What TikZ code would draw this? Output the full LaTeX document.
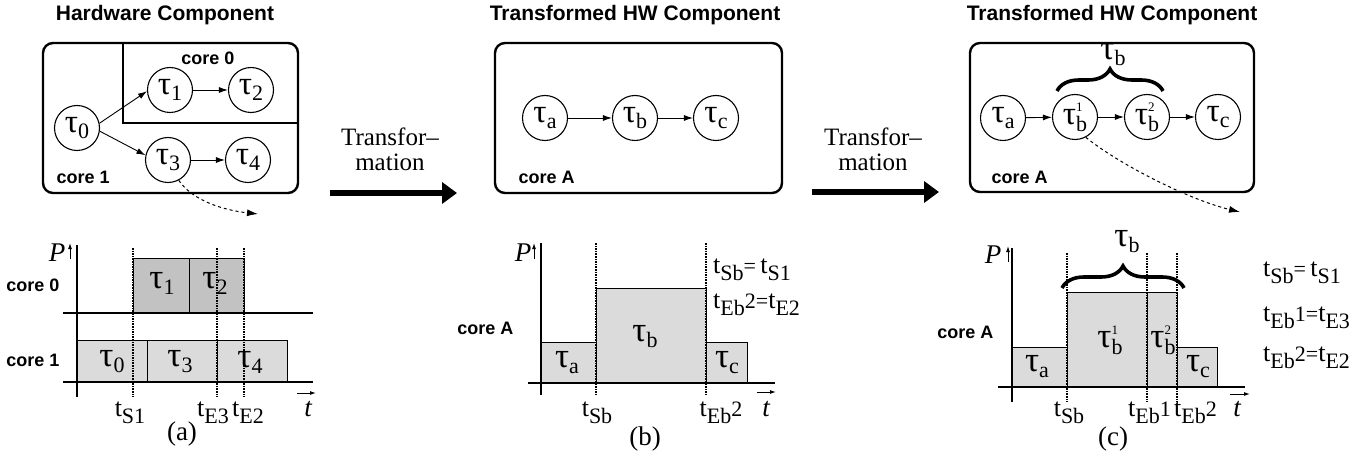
\documentclass[tikz,border=0pt]{standalone}
\usepackage{fontspec}
\setmainfont{Liberation Serif}
\setsansfont{Liberation Sans}
\usetikzlibrary{arrows.meta,decorations.pathreplacing}

\definecolor{barlight}{gray}{0.86}
\definecolor{bardark}{gray}{0.76}

% task and time labels
\newcommand\tsk[1]{τ\raisebox{-6pt}{\fontsize{22}{22}\selectfont #1}}
\newcommand\tskb[1]{τ\makebox[0pt][l]{\raisebox{13pt}{\fontsize{13}{13}\selectfont #1}}\raisebox{-7pt}{\fontsize{22}{22}\selectfont b}}
\newcommand\tlab[2][]{t\raisebox{-7pt}{\fontsize{22}{22}\selectfont #2}{\fontsize{22}{22}\selectfont #1}}
\newcommand\eqs{{\fontsize{22}{22}\selectfont=}}

\tikzset{
  title/.style={font=\sffamily\bfseries\fontsize{21}{21}\selectfont},
  corelbl/.style={font=\sffamily\bfseries\fontsize{18}{18}\selectfont},
  hwbox/.style={line width=2.4pt, rounded corners=10pt},
  taskc/.style={circle, draw, line width=1.1pt, minimum size=45pt, inner sep=0pt,
    font=\fontsize{33}{33}\selectfont},
  flow/.style={-{Latex[length=9pt,width=6pt]}, line width=0.9pt},
  bigarrow/.style={line width=6.5pt, -{Triangle[length=15pt,width=21pt]}},
  hint/.style={dashed, line width=1pt, -{Latex[length=11pt,width=7pt]}},
  tline/.style={line width=2pt, dash pattern=on 1.6pt off 1pt},
  axis/.style={line width=1.5pt},
  barl/.style={fill=barlight, draw, line width=0.8pt},
  bard/.style={fill=bardark, draw, line width=0.8pt},
  barlbl/.style={font=\fontsize{35}{35}\selectfont},
  tlbl/.style={font=\fontsize{26}{26}\selectfont, inner sep=1pt},
  plbl/.style={font=\itshape\fontsize{27}{27}\selectfont},
  tiny arrow/.style={line width=1pt, -{Latex[length=6pt,width=4pt]}},
  xfer/.style={align=center, font=\fontsize{25}{25}\selectfont},
  brc/.style={decorate, decoration={brace, amplitude=22pt}, line width=3.6pt},
  sub/.style={font=\fontsize{27}{27}\selectfont}
}

\begin{document}
\begin{tikzpicture}[x=1pt,y=-1pt]
  \useasboundingbox (0,0) rectangle (1359,457);

  % titles
  \node[title] (ttlA) at (165,15) {Hardware Component};
  \node[title] (ttlB) at (635,15) {Transformed HW Component};
  \node[title] (ttlC) at (1112,15) {Transformed HW Component};

  % (a) hardware component
  \draw[hwbox] (43,43) rectangle (298,193);
  \draw[line width=2.4pt] (123,43) -- (123,123) -- (297,123);
  \node[corelbl] (c0) at (208,58) {core 0};
  \node[corelbl, anchor=west] (c1) at (53,177) {core 1};

  \node[taskc] (t0) at (77,128) {\tsk{0}};
  \node[taskc] (t1) at (170,90) {\tsk{1}};
  \node[taskc] (t2) at (251,90) {\tsk{2}};
  \node[taskc] (t3) at (168,160) {\tsk{3}};
  \node[taskc] (t4) at (248,160) {\tsk{4}};
  \draw[flow] (t0.12) -- (t1.183);
  \draw[flow] (t0.-8) -- (t3.168);
  \draw[flow] (t1) -- (t2);
  \draw[flow] (t3) -- (t4);

  \coordinate (hA) at (258,214);
  \draw[hint] (t3.-62) .. controls (192,200) and (222,210) .. (hA);

  % (a) schedule
  \draw[bard] (133,258) rectangle (189,313);
  \draw[bard] (189,258) rectangle (244,313);
  \draw[barl] (77,340) rectangle (147,382);
  \draw[barl] (147,340) rectangle (217,382);
  \draw[barl] (217,340) rectangle (287,382);
  \draw[axis] (77,245) -- (77,397);
  \draw[axis] (63,313) -- (313,313);
  \draw[axis] (63,382) -- (313,382);
  \foreach \x in {133,217,244}
    \draw[tline] (\x,248) -- (\x,397);

  \node[barlbl] (b1) at (162,283) {\tsk{1}};
  \node[barlbl] (b2) at (215,283) {\tsk{2}};
  \node[barlbl] (b0) at (112,362) {\tsk{0}};
  \node[barlbl] (b3) at (180,362) {\tsk{3}};
  \node[barlbl] (b4) at (250,362) {\tsk{4}};

  \node[corelbl, anchor=east] (sc0) at (63,285) {core 0};
  \node[corelbl, anchor=east] (sc1) at (63,360) {core 1};
  \node[plbl] (pA) at (57,253) {P};
  \draw[tiny arrow] (70,259) -- (70,243);
  \node[plbl] (tA) at (308,409) {t};
  \draw[tiny arrow] (297,393) -- (316,393);
  \node[tlbl] (s1) at (130,413) {\tlab{S1}};
  \node[tlbl, anchor=east] (e3) at (230,413) {\tlab{E3}};
  \node[tlbl, anchor=west] (e2) at (231,413) {\tlab{E2}};
  \node[sub] (capA) at (182,434) {(a)};

  % transformation arrows
  \node[xfer] (xf1) at (390,149) {Transfor–\\mation};
  \coordinate (x1s) at (330,193);
  \coordinate (x1e) at (457,193);
  \draw[bigarrow] (x1s) -- (x1e);
  \node[xfer] (xf2) at (873,149) {Transfor–\\mation};
  \coordinate (x2s) at (812,192);
  \coordinate (x2e) at (939,192);
  \draw[bigarrow] (x2s) -- (x2e);

  % (b) transformed component
  \draw[hwbox] (495,43) rectangle (782,193);
  \node[corelbl, anchor=west] (cA1) at (515,177) {core A};
  \node[taskc] (ta1) at (545,118) {\tsk{a}};
  \node[taskc] (tb1) at (635,118) {\tsk{b}};
  \node[taskc] (tc1) at (716,118) {\tsk{c}};
  \draw[flow] (ta1) -- (tb1);
  \draw[flow] (tb1) -- (tc1);

  % (b) schedule
  \draw[barl] (541,342) rectangle (596,383);
  \draw[barl] (596,288) rectangle (706,383);
  \draw[barl] (706,342) rectangle (747,383);
  \draw[axis] (541,243) -- (541,395);
  \draw[axis] (528,383) -- (775,383);
  \foreach \x in {596,706}
    \draw[tline] (\x,243) -- (\x,395);
  \node[barlbl] (ba1) at (567,363) {\tsk{a}};
  \node[barlbl] (bb1) at (645,337) {\tsk{b}};
  \node[barlbl] (bc1) at (727,363) {\tsk{c}};

  \node[corelbl, anchor=east] (scA1) at (517,328) {core A};
  \node[plbl] (pB) at (523,253) {P};
  \draw[tiny arrow] (534,259) -- (534,243);
  \node[plbl] (tB) at (766,409) {t};
  \draw[tiny arrow] (757,392) -- (776,392);
  \node[tlbl] (sb1) at (597,413) {\tlab{Sb}};
  \node[tlbl] (eb1) at (721,413) {\tlab[2]{Eb}};
  \node[tlbl, anchor=west] (eqB1) at (712,270) {\tlab{Sb}\eqs\,\tlab{S1}};
  \node[tlbl, anchor=west] (eqB2) at (712,305) {\tlab[2]{Eb}\eqs\tlab{E2}};
  \node[sub] (capB) at (645,439) {(b)};

  % (c) split component
  \draw[hwbox] (970,43) rectangle (1254,192);
  \node[corelbl, anchor=west] (cA2) at (988,177) {core A};
  \node[taskc] (ta2) at (1003,118) {\tsk{a}};
  \node[taskc] (tb2a) at (1075,117) {\tskb{1}};
  \node[taskc] (tb2b) at (1147,117) {\tskb{2}};
  \node[taskc] (tc2) at (1218,117) {\tsk{c}};
  \draw[flow] (ta2) -- (tb2a);
  \draw[flow] (tb2a) -- (tb2b);
  \draw[flow] (tb2b) -- (tc2);
  \draw[brc] (1057,91) -- (1163,91);
  \node[barlbl] (brT) at (1113,55) {\tsk{b}};

  \coordinate (hC) at (1240,212);
  \draw[hint] (tb2a.-62) .. controls (1120,165) and (1190,200) .. (hC);

  % (c) schedule
  \draw[barl] (1012,347) rectangle (1067,387);
  \draw[barl] (1067,292) rectangle (1147,387);
  \draw[barl] (1147,292) rectangle (1177,387);
  \draw[barl] (1177,347) rectangle (1217,387);
  \draw[axis] (1012,248) -- (1012,402);
  \draw[axis] (998,387) -- (1245,387);
  \foreach \x in {1067,1147,1177}
    \draw[tline] (\x,253) -- (\x,402);
  \draw[brc] (1062,288) -- (1184,288);
  \node[barlbl] (brB) at (1127,242) {\tsk{b}};
  \node[barlbl] (ba2) at (1037,367) {\tsk{a}};
  \node[barlbl] (bb2a) at (1110,340) {\tskb{1}};
  \node[barlbl] (bb2b) at (1163,340) {\tskb{2}};
  \node[barlbl] (bc2) at (1198,367) {\tsk{c}};

  \node[corelbl, anchor=east] (scA2) at (997,332) {core A};
  \node[plbl] (pC) at (993,255) {P};
  \draw[tiny arrow] (1008,262) -- (1008,246);
  \node[plbl] (tC) at (1237,409) {t};
  \draw[tiny arrow] (1230,394) -- (1250,394);
  \node[tlbl] (sb2) at (1069,413) {\tlab{Sb}};
  \node[tlbl, anchor=east] (eb2a) at (1172,413) {\tlab[1]{Eb}};
  \node[tlbl, anchor=west] (eb2b) at (1173,413) {\tlab[2]{Eb}};
  \node[tlbl, anchor=west] (eqC1) at (1262,273) {\tlab{Sb}\eqs\,\tlab{S1}};
  \node[tlbl, anchor=west] (eqC2) at (1262,318) {\tlab[1]{Eb}\eqs\tlab{E3}};
  \node[tlbl, anchor=west] (eqC3) at (1262,358) {\tlab[2]{Eb}\eqs\tlab{E2}};
  \node[sub] (capC) at (1113,439) {(c)};
\end{tikzpicture}
\end{document}
